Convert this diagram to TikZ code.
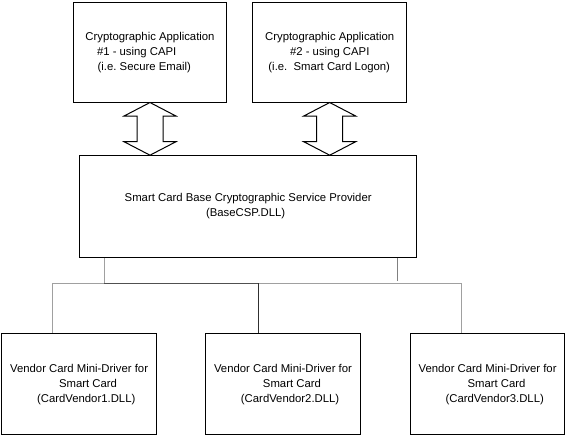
\documentclass[tikz,border=0pt]{standalone}
\usepackage{fontspec}
\setmainfont{Liberation Sans}
\usetikzlibrary{calc}
\definecolor{lightln}{HTML}{A0A0A0}
\definecolor{midln}{HTML}{808080}
\definecolor{darkln}{HTML}{505050}
\definecolor{darkerln}{HTML}{303030}
\tikzset{
  box/.style={draw=black, line width=0.75pt, rectangle, inner sep=0pt,
    align=left, font=\fontsize{8.5}{11.2}\selectfont\frenchspacing},
  appbox/.style={box, minimum width=115.3pt, minimum height=74.6pt},
  cspbox/.style={box, minimum width=253.1pt, minimum height=76.2pt},
  vendbox/.style={box, minimum width=116pt, minimum height=76.1pt},
  dblarrow/.style={draw=black, line width=0.75pt, fill=white, line join=miter},
  conn/.style={line width=0.75pt},
}
\begin{document}
\begin{tikzpicture}[x=0.75pt, y=-0.75pt]
\useasboundingbox (0,0) rectangle (573,439);
% application boxes
\node[appbox] (a1) at (150,52.3) {Cryptographic Application\\
  \hspace*{8.7pt}\#1 - using CAPI\\
  \hspace*{9.2pt}(i.e. Secure Email)};
\node[appbox] (a2) at (329.7,52.3) {Cryptographic Application\\
  \hspace*{18.7pt}\#2 - using CAPI\\
  \hspace*{2.5pt}(i.e.\ \ Smart Card Logon)};
% CSP box
\node[cspbox] (csp) at (248.2,206.5) {Smart Card Base Cryptographic Service Provider\\
  \hspace*{61pt}(BaseCSP.DLL)};
% vendor boxes
\node[vendbox] (v1) at (79.1,384.2) {Vendor Card Mini-Driver for\\
  \hspace*{36.7pt}Smart Card\\
  \hspace*{20.2pt}(CardVendor1.DLL)};
\node[vendbox] (v2) at (283,384.2) {Vendor Card Mini-Driver for\\
  \hspace*{36.7pt}Smart Card\\
  \hspace*{20.2pt}(CardVendor2.DLL)};
\node[vendbox] (v3) at (487.6,384.2) {Vendor Card Mini-Driver for\\
  \hspace*{36.7pt}Smart Card\\
  \hspace*{20.2pt}(CardVendor3.DLL)};
% double arrows
\foreach \s in {a1,a2}{
  \coordinate (t\s) at (\s.south);
  \coordinate (b\s) at (\s.south |- csp.north);
  \draw[dblarrow] (t\s) -- ($(t\s)+(26,13.5)$) -- ($(t\s)+(13,13.5)$)
    -- ($(b\s)+(13,-13.5)$) -- ($(b\s)+(26,-13.5)$) -- (b\s)
    -- ($(b\s)+(-26,-13.5)$) -- ($(b\s)+(-13,-13.5)$)
    -- ($(t\s)+(-13,13.5)$) -- ($(t\s)+(-26,13.5)$) -- cycle;
}
% bus connectors
\coordinate (cl) at (104,283);
\coordinate (cr) at (397.3,280.7);
\coordinate (jl) at (52.7,283);
\coordinate (jm) at (258,283);
\coordinate (jr) at (461.7,283);
\draw[conn, lightln] (csp.south -| cl) -- (cl);
\draw[conn, midln] (csp.south -| cr) -- (cr);
\draw[conn, lightln] (v1.north -| jl) -- (jl) -- (cl);
\draw[conn, darkln] (cl) -- (jm);
\draw[conn, lightln] (jm) -- (jr) -- (v3.north -| jr);
\draw[conn, darkerln] (jm) -- (v2.north -| jm);
\end{tikzpicture}
\end{document}
